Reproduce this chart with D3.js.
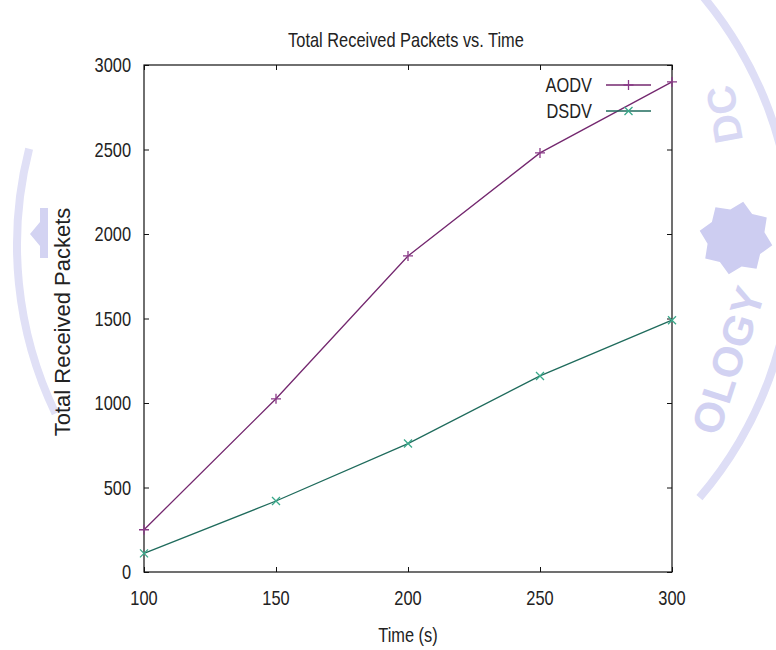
<!DOCTYPE html>
<html>
<head>
<meta charset="utf-8">
<script src="https://cdn.jsdelivr.net/npm/d3@7"></script>
<style>
  body { margin: 0; background: #fff; }
  text { fill: #222; }
</style>
</head>
<body>
<div id="chart-area"></div>
<script>
// Data
var times = [100, 150, 200, 250, 300];
var aodv  = [250, 1025, 1870, 2480, 2900];
var dsdv  = [110, 420, 760, 1160, 1490];
var xTicks = [100, 150, 200, 250, 300];
var yTicks = [0, 500, 1000, 1500, 2000, 2500, 3000];

var W = 776, H = 650;
var margin = { top: 65, bottom: 78, left: 144, right: 104 };
var width  = W - margin.left - margin.right;
var height = H - margin.top  - margin.bottom;

var sans = "'Liberation Sans', Arial, sans-serif";

var svg = d3.select('#chart-area')
  .append('svg')
    .attr('width', W)
    .attr('height', H);

// condensed text, like the gnuplot png font
function label(sel, x, y, txt, anchor) {
  return sel.append('text')
    .attr('transform', 'translate(' + x + ',' + y + ') scale(0.82,1)')
    .attr('text-anchor', anchor)
    .style('font-family', sans).style('font-size', '20px')
    .text(txt);
}

// faint watermark behind the chart
var wm = svg.append('g');
var ring = d3.arc().innerRadius(384).outerRadius(392);
wm.append('path')
  .attr('transform', 'translate(405,245)')
  .attr('fill', '#dedef6')
  .attr('d', ring({ startAngle: 0.86, endAngle: 2.28 }));
wm.append('path')
  .attr('transform', 'translate(405,245)')
  .attr('fill', '#e0e0f6')
  .attr('d', ring({ startAngle: -2.02, endAngle: -1.32 }));
// eight point star
var star = [];
for (var i = 0; i < 16; i++) {
  var r = i % 2 === 0 ? 37 : 29;
  var a = i * Math.PI / 8 + Math.PI / 16;
  star.push([736 + r * Math.cos(a), 238 + r * Math.sin(a)]);
}
wm.append('polygon')
  .attr('fill', '#cdcdf1')
  .attr('points', star.map(function(p) { return p.join(','); }).join(' '));
wm.append('path')
  .attr('fill', '#d3d3f2')
  .attr('d', 'M48,208 L48,258 L40,258 L40,246 L30,234 L40,222 L40,208 Z');
wm.append('text')
  .attr('transform', 'translate(742,365) rotate(-72)')
  .attr('text-anchor', 'middle')
  .style('font-family', sans).style('font-weight', 'bold').style('font-size', '42px')
  .style('fill', '#d2d2f2')
  .text('OLOGY');
wm.append('text')
  .attr('transform', 'translate(738,112) rotate(-100)')
  .attr('text-anchor', 'middle')
  .style('font-family', sans).style('font-weight', 'bold').style('font-size', '40px')
  .style('fill', '#d8d8f4')
  .text('DC');

var g = svg.append('g')
  .attr('transform', 'translate(' + margin.left + ',' + margin.top + ')');

var x = d3.scaleLinear().domain([100, 300]).range([0, width]);
var y = d3.scaleLinear().domain([0, 3000]).range([height, 0]);

// inward ticks on all four sides, gnuplot style
g.append('g')
  .attr('transform', 'translate(0,' + height + ')')
  .call(d3.axisBottom(x).tickValues(xTicks).tickSize(-5).tickFormat(''));
g.append('g')
  .call(d3.axisTop(x).tickValues(xTicks).tickSize(-5).tickFormat(''));
g.append('g')
  .call(d3.axisLeft(y).tickValues(yTicks).tickSize(-5).tickFormat(''));
g.append('g')
  .attr('transform', 'translate(' + width + ',0)')
  .call(d3.axisRight(y).tickValues(yTicks).tickSize(-5).tickFormat(''));
g.selectAll('.domain').remove();
g.selectAll('.tick line').attr('stroke', '#111');

g.append('rect')
  .attr('width', width).attr('height', height)
  .attr('fill', 'none').attr('stroke', '#111').attr('stroke-width', 1.2);

// tick labels
xTicks.forEach(function(d) {
  label(g, x(d), height + 33, d, 'middle');
});
yTicks.forEach(function(d) {
  label(g, -13, y(d) + 7, d, 'end');
});

// title and axis labels
label(svg, 406, 47, 'Total Received Packets vs. Time', 'middle');
label(svg, 408, 642, 'Time (s)', 'middle');

svg.append('text')
  .attr('transform', 'translate(70,322) rotate(-90)')
  .attr('text-anchor', 'middle')
  .style('font-family', sans).style('font-size', '22px')
  .text('Total Received Packets');

// series
var series = [
  { name: 'AODV', values: aodv, line: '#74286f', mark: '#8a3a88', shape: 'plus' },
  { name: 'DSDV', values: dsdv, line: '#1f6b5c', mark: '#3aa88a', shape: 'cross' }
];

var line = d3.line()
  .x(function(d, i) { return x(times[i]); })
  .y(function(d) { return y(d); });

function marker(sel, shape, cx, cy, s) {
  if (shape === 'plus') {
    sel.append('path').attr('d',
      'M' + (cx - s) + ',' + cy + 'H' + (cx + s) + 'M' + cx + ',' + (cy - s) + 'V' + (cy + s));
  } else {
    sel.append('path').attr('d',
      'M' + (cx - s) + ',' + (cy - s) + 'L' + (cx + s) + ',' + (cy + s) +
      'M' + (cx - s) + ',' + (cy + s) + 'L' + (cx + s) + ',' + (cy - s));
  }
}

series.forEach(function(s, k) {
  g.append('path')
    .datum(s.values)
    .attr('fill', 'none')
    .attr('stroke', s.line)
    .attr('stroke-width', 1.3)
    .attr('d', line);

  var mg = g.append('g').attr('stroke', s.mark).attr('stroke-width', 1.3).attr('fill', 'none');
  s.values.forEach(function(v, i) {
    marker(mg, s.shape, x(times[i]), y(v), s.shape === 'plus' ? 5 : 4);
  });

  // legend entry
  var ly = 20 + k * 26;
  label(g, 448, ly + 7, s.name, 'end');
  g.append('line')
    .attr('x1', 462).attr('x2', 507)
    .attr('y1', ly).attr('y2', ly)
    .attr('stroke', s.line).attr('stroke-width', 1.3);
  var lg = g.append('g').attr('stroke', s.mark).attr('stroke-width', 1.3).attr('fill', 'none');
  marker(lg, s.shape, 484.5, ly, s.shape === 'plus' ? 5 : 4);
});
</script>
</body>
</html>
